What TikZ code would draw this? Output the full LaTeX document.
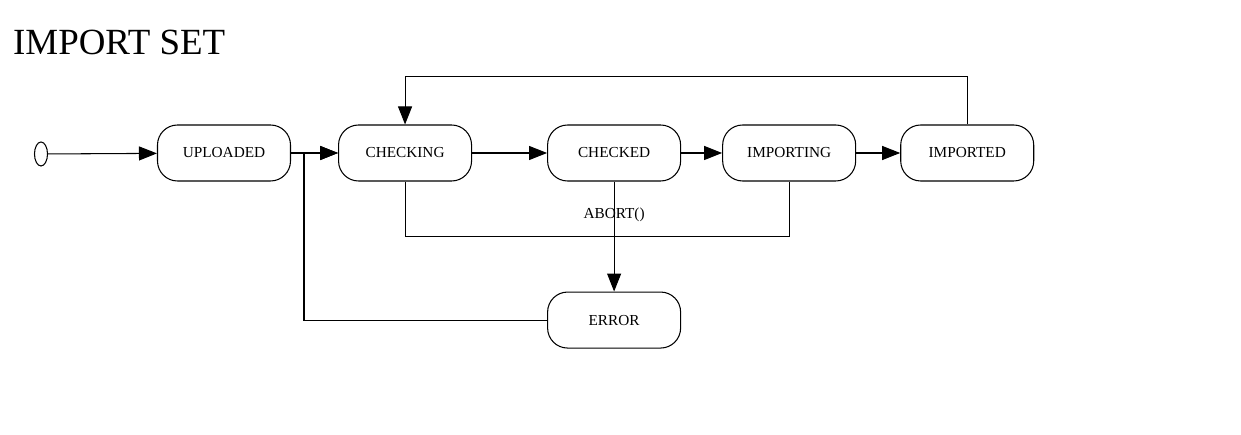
\documentclass[tikz,border=0pt]{standalone}
\usepackage{fontspec}
\setmainfont{Liberation Serif}
\usetikzlibrary{shapes,arrows.meta,positioning,calc}

\begin{document}
\begin{tikzpicture}[
    node distance=0.94cm,
    st/.style={rectangle, draw, line width=0.6pt, rounded corners=0.4cm, align=center, minimum height=1.12cm, minimum width=2.66cm, font=\fontsize{8.7}{10}\selectfont},
    arr/.style={-{Triangle[length=0.36cm, width=0.28cm]}, line width=0.6pt},
    ln/.style={line width=0.6pt}
]
    \useasboundingbox (0,0) rectangle (24.82,-8.7);
    \node [anchor=base west, font=\fontsize{21}{24}\selectfont] (title) at (0.14,-1.1) {IMPORT SET};

    \node [ellipse, draw, line width=0.6pt, minimum width=0.26cm, minimum height=0.48cm, inner sep=0pt] (init) at (0.82,-3.08) {};
    \node [st] (uploaded) at (4.48,-3.06) {UPLOADED};
    \node [st, right=0.94cm of uploaded] (checking) {CHECKING};
    \node [st, right=1.5cm of checking] (checked) {CHECKED};
    \node [st, right=0.82cm of checked] (importing) {IMPORTING};
    \node [st, right=0.88cm of importing] (imported) {IMPORTED};
    \node [st, below=2.2cm of checked] (error) {ERROR};

    \coordinate (join) at (6.08,-3.06);

    \draw [arr] (init) -- (uploaded);
    \draw [arr] (uploaded) -- (checking);
    \draw [arr] (checking) -- (checked);
    \draw [arr] (checked) -- (importing);
    \draw [arr] (importing) -- (imported);
    \draw [arr] (imported.north) -- ++(0,0.96) -| (checking.north);
    \draw [arr] (error.west) -| (join) -- (checking.west);
    \draw [ln] (checking.south) -- ++(0,-1.1) -| (importing.south);
    \draw [arr] (checked.south) -- node [pos=0.3, font=\fontsize{8.7}{10}\selectfont] {ABORT()} (error.north);
\end{tikzpicture}
\end{document}
